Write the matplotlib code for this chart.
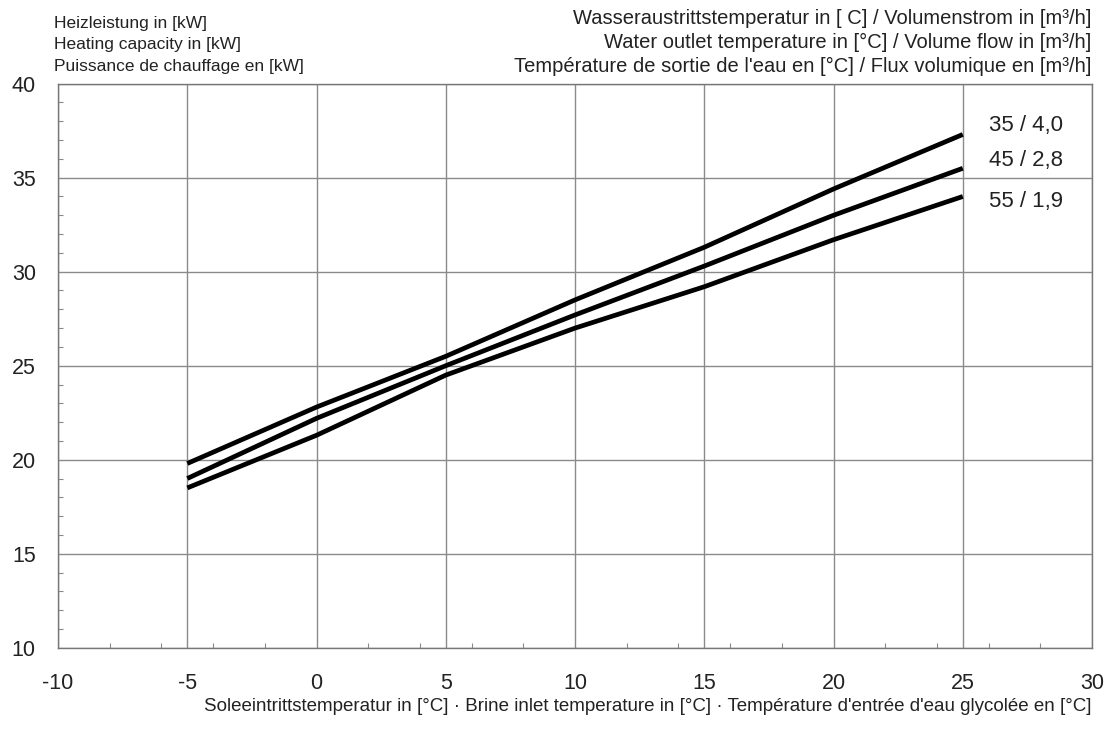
import matplotlib.pyplot as plt
from matplotlib.ticker import MultipleLocator

plt.rcParams['font.family'] = ['Liberation Sans', 'DejaVu Sans']
plt.rcParams['axes.unicode_minus'] = False

# brine inlet temperature [°C]
brine_temp = [-5, 0, 5, 10, 15, 20, 25]

# heating capacity [kW] per water outlet temp / volume flow
cap_35 = [19.8, 22.8, 25.5, 28.5, 31.3, 34.4, 37.3]
cap_45 = [19.0, 22.2, 25.0, 27.7, 30.3, 33.0, 35.5]
cap_55 = [18.5, 21.3, 24.5, 27.0, 29.2, 31.7, 34.0]

series = [cap_35, cap_45, cap_55]
labels = ['35 / 4,0', '45 / 2,8', '55 / 1,9']
label_y = [37.8, 35.9, 33.75]

x_ticks = [-10, -5, 0, 5, 10, 15, 20, 25, 30]
y_ticks = [10, 15, 20, 25, 30, 35, 40]

fig = plt.figure(figsize=(11.1, 7.29), dpi=100)
ax = fig.add_axes([0.0523, 0.1115, 0.9315, 0.7737])

for vals in series:
    ax.plot(brine_temp, vals, color='black', linewidth=3.4, solid_capstyle='butt', zorder=3)

for lab, ly in zip(labels, label_y):
    ax.text(26.0, ly, lab, fontsize=16, va='center', ha='left', color='#222222')

ax.set_xlim(-10, 30)
ax.set_ylim(10, 40)
ax.set_xticks(x_ticks)
ax.set_yticks(y_ticks)
ax.xaxis.set_minor_locator(MultipleLocator(2))
ax.yaxis.set_minor_locator(MultipleLocator(1))
ax.grid(True, which='major', color='#8a8a8a', linewidth=1.0)
ax.tick_params(which='major', length=0, labelsize=15.5, labelcolor='#222222')
ax.tick_params(axis='x', which='major', pad=18)
ax.tick_params(axis='y', which='major', pad=16)
ax.tick_params(which='minor', direction='in', length=3.5, color='#8a8a8a', width=0.8)
for s in ax.spines.values():
    s.set_color('#777777')
    s.set_linewidth(1.0)

# axis titles
fig.text(0.049, 0.968, 'Heizleistung in [kW]', fontsize=12.5, va='center', ha='left', color='#222222')
fig.text(0.049, 0.939, 'Heating capacity in [kW]', fontsize=12.5, va='center', ha='left', color='#222222')
fig.text(0.049, 0.909, 'Puissance de chauffage en [kW]', fontsize=12.5, va='center', ha='left', color='#222222')

fig.text(0.983, 0.975, 'Wasseraustrittstemperatur in [ C] / Volumenstrom in [m³/h]', fontsize=14.5, va='center', ha='right', color='#222222')
fig.text(0.983, 0.942, 'Water outlet temperature in [°C] / Volume flow in [m³/h]', fontsize=14.5, va='center', ha='right', color='#222222')
fig.text(0.983, 0.909, "Température de sortie de l'eau en [°C] / Flux volumique en [m³/h]", fontsize=14.5, va='center', ha='right', color='#222222')

fig.text(0.983, 0.031, "Soleeintrittstemperatur in [°C] · Brine inlet temperature in [°C] · Température d'entrée d'eau glycolée en [°C]",
         fontsize=13.5, va='center', ha='right', color='#222222')

fig.savefig('out.png', dpi=100)
